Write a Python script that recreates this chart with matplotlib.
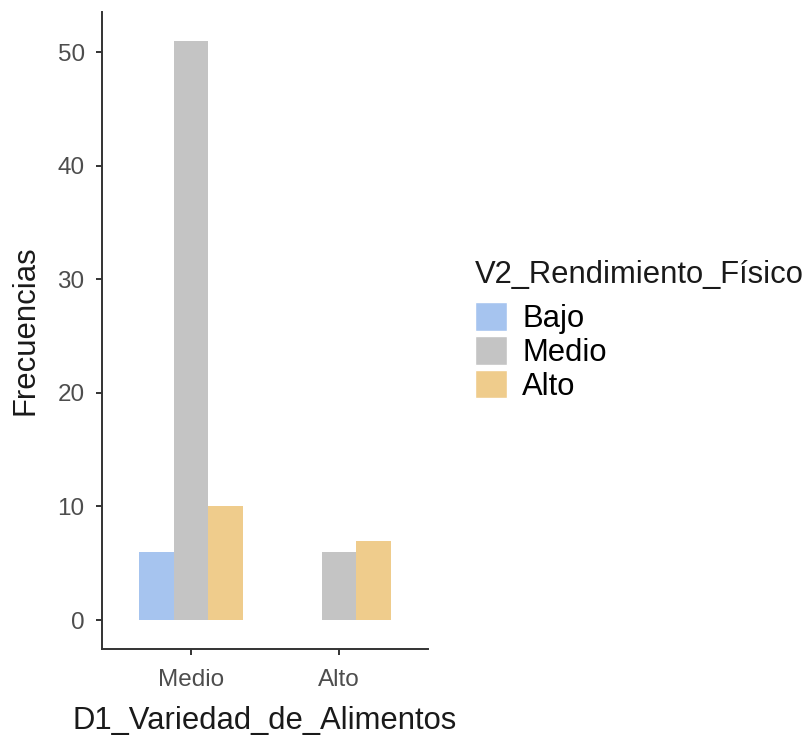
import matplotlib.pyplot as plt
import numpy as np

categorias = ['Medio', 'Alto']
niveles = ['Bajo', 'Medio', 'Alto']
bajo = [6, 0]
medio = [51, 6]
alto = [10, 7]
colores = ['#a6c4ef', '#c4c4c4', '#efcc8c']

plt.rcParams['font.family'] = ['Liberation Sans', 'DejaVu Sans']

fig = plt.figure(figsize=(8.09, 7.4), dpi=100)
ax = fig.add_axes([102 / 809, 1 - 649 / 740, 326 / 809, 637 / 740])

x = np.arange(len(categorias))
ancho = 0.7 / 3
for i, (serie, color, nombre) in enumerate(zip([bajo, medio, alto], colores, niveles)):
    ax.bar(x + (i - 1) * ancho, serie, width=ancho, color=color, label=nombre, linewidth=0)

ax.set_xlim(-0.6, 1.6)
ax.set_ylim(-2.55, 53.55)
ax.set_xticks(x)
ax.set_xticklabels(categorias)
ax.set_yticks([0, 10, 20, 30, 40, 50])

for lado in ['top', 'right']:
    ax.spines[lado].set_visible(False)
for lado in ['left', 'bottom']:
    ax.spines[lado].set_linewidth(1.4)
    ax.spines[lado].set_color('#333333')
ax.tick_params(axis='both', length=4.5, width=1.4, color='#333333',
               labelsize=17.5, labelcolor='#4d4d4d', pad=8)
ax.tick_params(axis='x', pad=10)

ax.set_xlabel('D1_Variedad_de_Alimentos', fontsize=22.3, color='#1a1a1a', labelpad=11)
ax.set_ylabel('Frecuencias', fontsize=22.3, color='#1a1a1a', labelpad=12)

leg = ax.legend(loc='upper left',
                bbox_to_anchor=(475 / 809, 1 - 302 / 740), bbox_transform=fig.transFigure,
                frameon=False, fontsize=22.3,
                handlelength=1.03, handleheight=1.05, labelspacing=0.06,
                handletextpad=0.5, borderpad=0, borderaxespad=0)
for h in leg.legend_handles:
    h.set_edgecolor('white')
    h.set_linewidth(1)
fig.text(475 / 809, 1 - 283 / 740, 'V2_Rendimiento_Físico', fontsize=22.3,
         color='#1a1a1a', ha='left', va='baseline')

fig.savefig('out.png', dpi=100)
plt.close(fig)
